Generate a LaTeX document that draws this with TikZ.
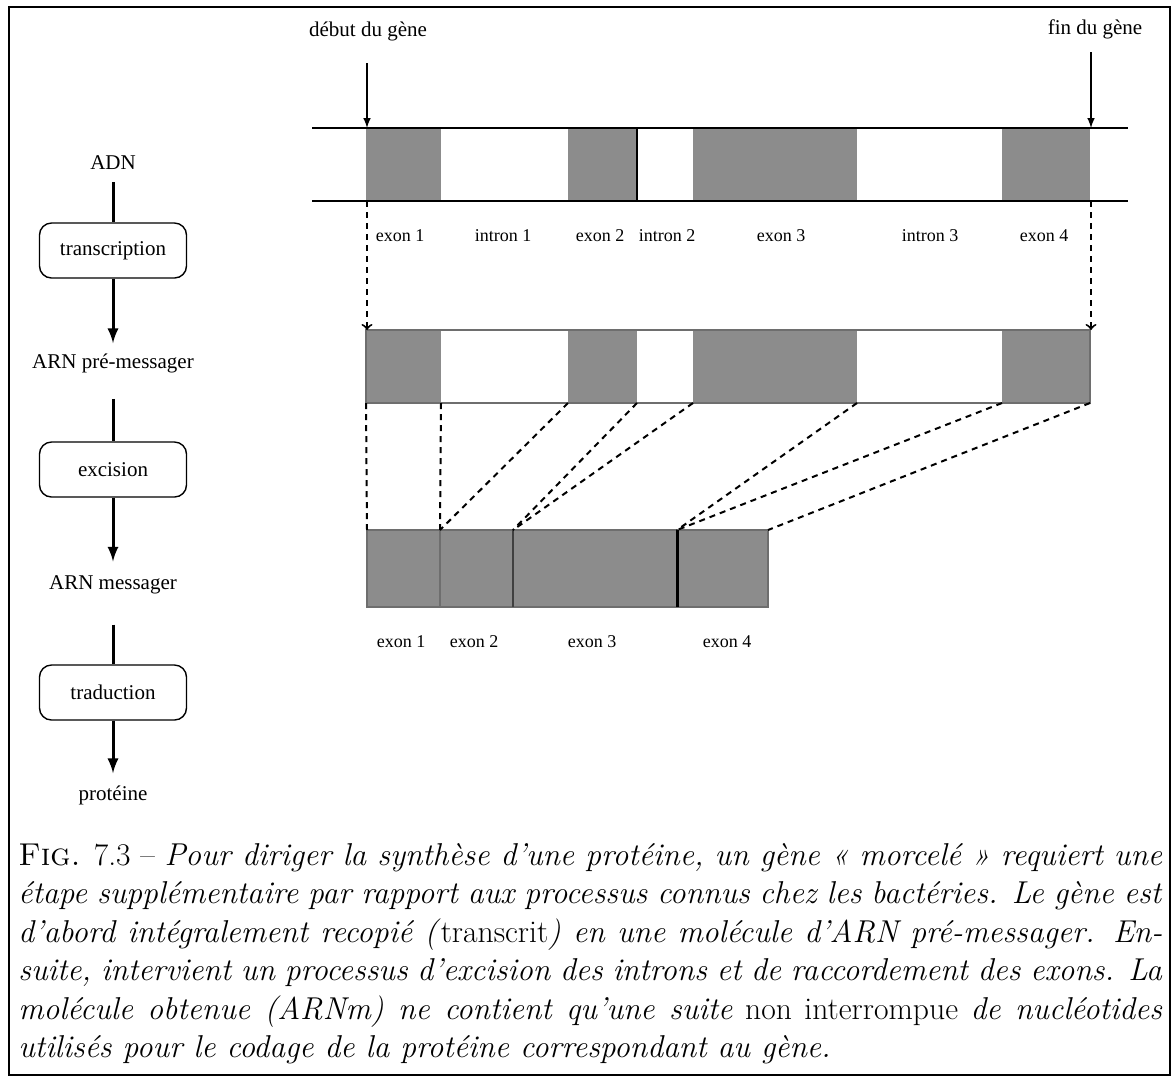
\documentclass[tikz,border=0pt]{standalone}
\usepackage{fontspec}
\newfontfamily\figfont{Liberation Serif}
\usetikzlibrary{arrows, math, positioning}
\definecolor{exongray}{RGB}{140,140,140}
\definecolor{bordgray}{RGB}{110,110,110}

\begin{document}
\begin{tikzpicture}[x=0.5pt,y=-0.5pt,
  etape/.style={draw,rounded corners=6pt,line width=0.7pt,minimum width=73.5pt,minimum height=27.5pt,inner sep=0pt,font=\figfont\fontsize{10.5}{12}\selectfont},
  molec/.style={inner sep=1pt,font=\figfont\fontsize{10.5}{12}\selectfont},
  lbl/.style={inner sep=1pt,font=\figfont\fontsize{9}{10}\selectfont},
  trait/.style={line width=1.5pt},
  fleche/.style={line width=1.5pt,-latex},
  pointille/.style={dash pattern=on 3pt off 2.5pt,line width=1pt}]
\tikzmath{
\yA=128; \yB=201;
\yC=330; \yD=403;
\yE=530; \yF=607;
}
\useasboundingbox (0,0) rectangle (1176,1084);
\draw[line width=0.7pt] (9,7) rectangle (1170,1075);

%%%%%%%%%%   left column
\node[molec] (adn) at (113,163) {ADN};
\node[etape] (transc) at (113,250.5) {transcription};
\node[molec] (pre) at (113,363) {ARN pré-messager};
\node[etape] (excis) at (113,469.5) {excision};
\node[molec] (arnm) at (113,585) {ARN messager};
\node[etape] (trad) at (113,692.5) {traduction};
\node[molec] (prot) at (113,795) {protéine};

\draw[trait,shorten <=5pt] (adn) -- (transc);
\draw[fleche,shorten >=4pt] (transc) -- (pre);
\draw[trait,shorten <=12pt] (pre) -- (excis);
\draw[fleche,shorten >=6pt] (excis) -- (arnm);
\draw[trait,shorten <=14pt] (arnm) -- (trad);
\draw[fleche,shorten >=5pt] (trad) -- (prot);

%%%%%%%%%%   gene
\foreach \a/\b in {366/441, 568/637, 693/857, 1002/1090}{
  \fill[exongray] (\a,\yA) rectangle (\b,\yB);
  \fill[exongray] (\a,\yC) rectangle (\b,\yD);
}
\draw[line width=0.7pt] (312,\yA) -- (1128,\yA);
\draw[line width=0.7pt] (312,\yB) -- (1128,\yB);
\draw[line width=0.9pt] (637,\yA) -- (637,\yB);
\foreach \x/\t [count=\i] in {400/exon 1, 503/intron 1, 600/exon 2, 667/intron 2, 781/exon 3, 930/intron 3, 1044/exon 4}
  \node[lbl] (haut\i) at (\x,236) {\t};

\node[molec] (debut) at (368,31) {début du gène};
\node[molec] (fin) at (1095,29) {fin du gène};
\coordinate (debutG) at (367,\yA);
\coordinate (finG) at (1091,\yA);
\draw[line width=0.7pt,-latex] (debutG |- 0,63) -- (debutG);
\draw[line width=0.7pt,-latex] (finG |- 0,52) -- (finG);

%%%%%%%%%%   pre-messenger
\draw[bordgray,line width=0.6pt] (366,\yC) rectangle (1090,\yD);
\coordinate (pre1) at (367,\yC);
\coordinate (pre2) at (1091,\yC);
\draw[pointille,->] (debutG |- 0,\yB) -- (pre1);
\draw[pointille,->] (finG |- 0,\yB) -- (pre2);

%%%%%%%%%%   messenger
\fill[exongray] (367,\yE) rectangle (768,\yF);
\draw[bordgray,line width=0.6pt] (367,\yE) rectangle (768,\yF);
\draw[bordgray,line width=0.6pt] (440,\yE) -- (440,\yF);
\draw[black!75,line width=0.9pt] (513,\yE) -- (513,\yF);
\draw[line width=1.5pt] (677,\yE) -- (677,\yF);
\foreach \a/\b [count=\i] in {366/367, 441/440, 568/440, 637/513, 693/513, 857/677, 1002/677, 1090/768}{
  \coordinate (src\i) at (\a,\yD);
  \coordinate (dst\i) at (\b,\yE);
  \draw[pointille] (src\i) -- (dst\i);
}
\foreach \x/\t [count=\i] in {401/exon 1, 474/exon 2, 592/exon 3, 727/exon 4}
  \node[lbl] (bas\i) at (\x,642) {\t};

%%%%%%%%%%   caption
\node[anchor=north west,text width=572pt,align=justify,inner sep=0pt,font=\fontsize{15.8}{19.25}\selectfont] (legende) at (18,843)
{\textsc{Fig.} 7.3 -- \textit{Pour diriger la synthèse d'une protéine, un gène «~morcelé~» requiert une}\linebreak
\textit{étape supplémentaire par rapport aux processus connus chez les bactéries. Le gène est}\linebreak
\textit{d'abord intégralement recopié (}transcrit\textit{) en une molécule d'ARN pré-messager. En-}\linebreak
\textit{suite, intervient un processus d'excision des introns et de raccordement des exons. La}\linebreak
\textit{molécule obtenue (ARNm) ne contient qu'une suite} non interrompue \textit{de nucléotides}\linebreak
\textit{utilisés pour le codage de la protéine correspondant au gène.}};
\end{tikzpicture}
\end{document}
